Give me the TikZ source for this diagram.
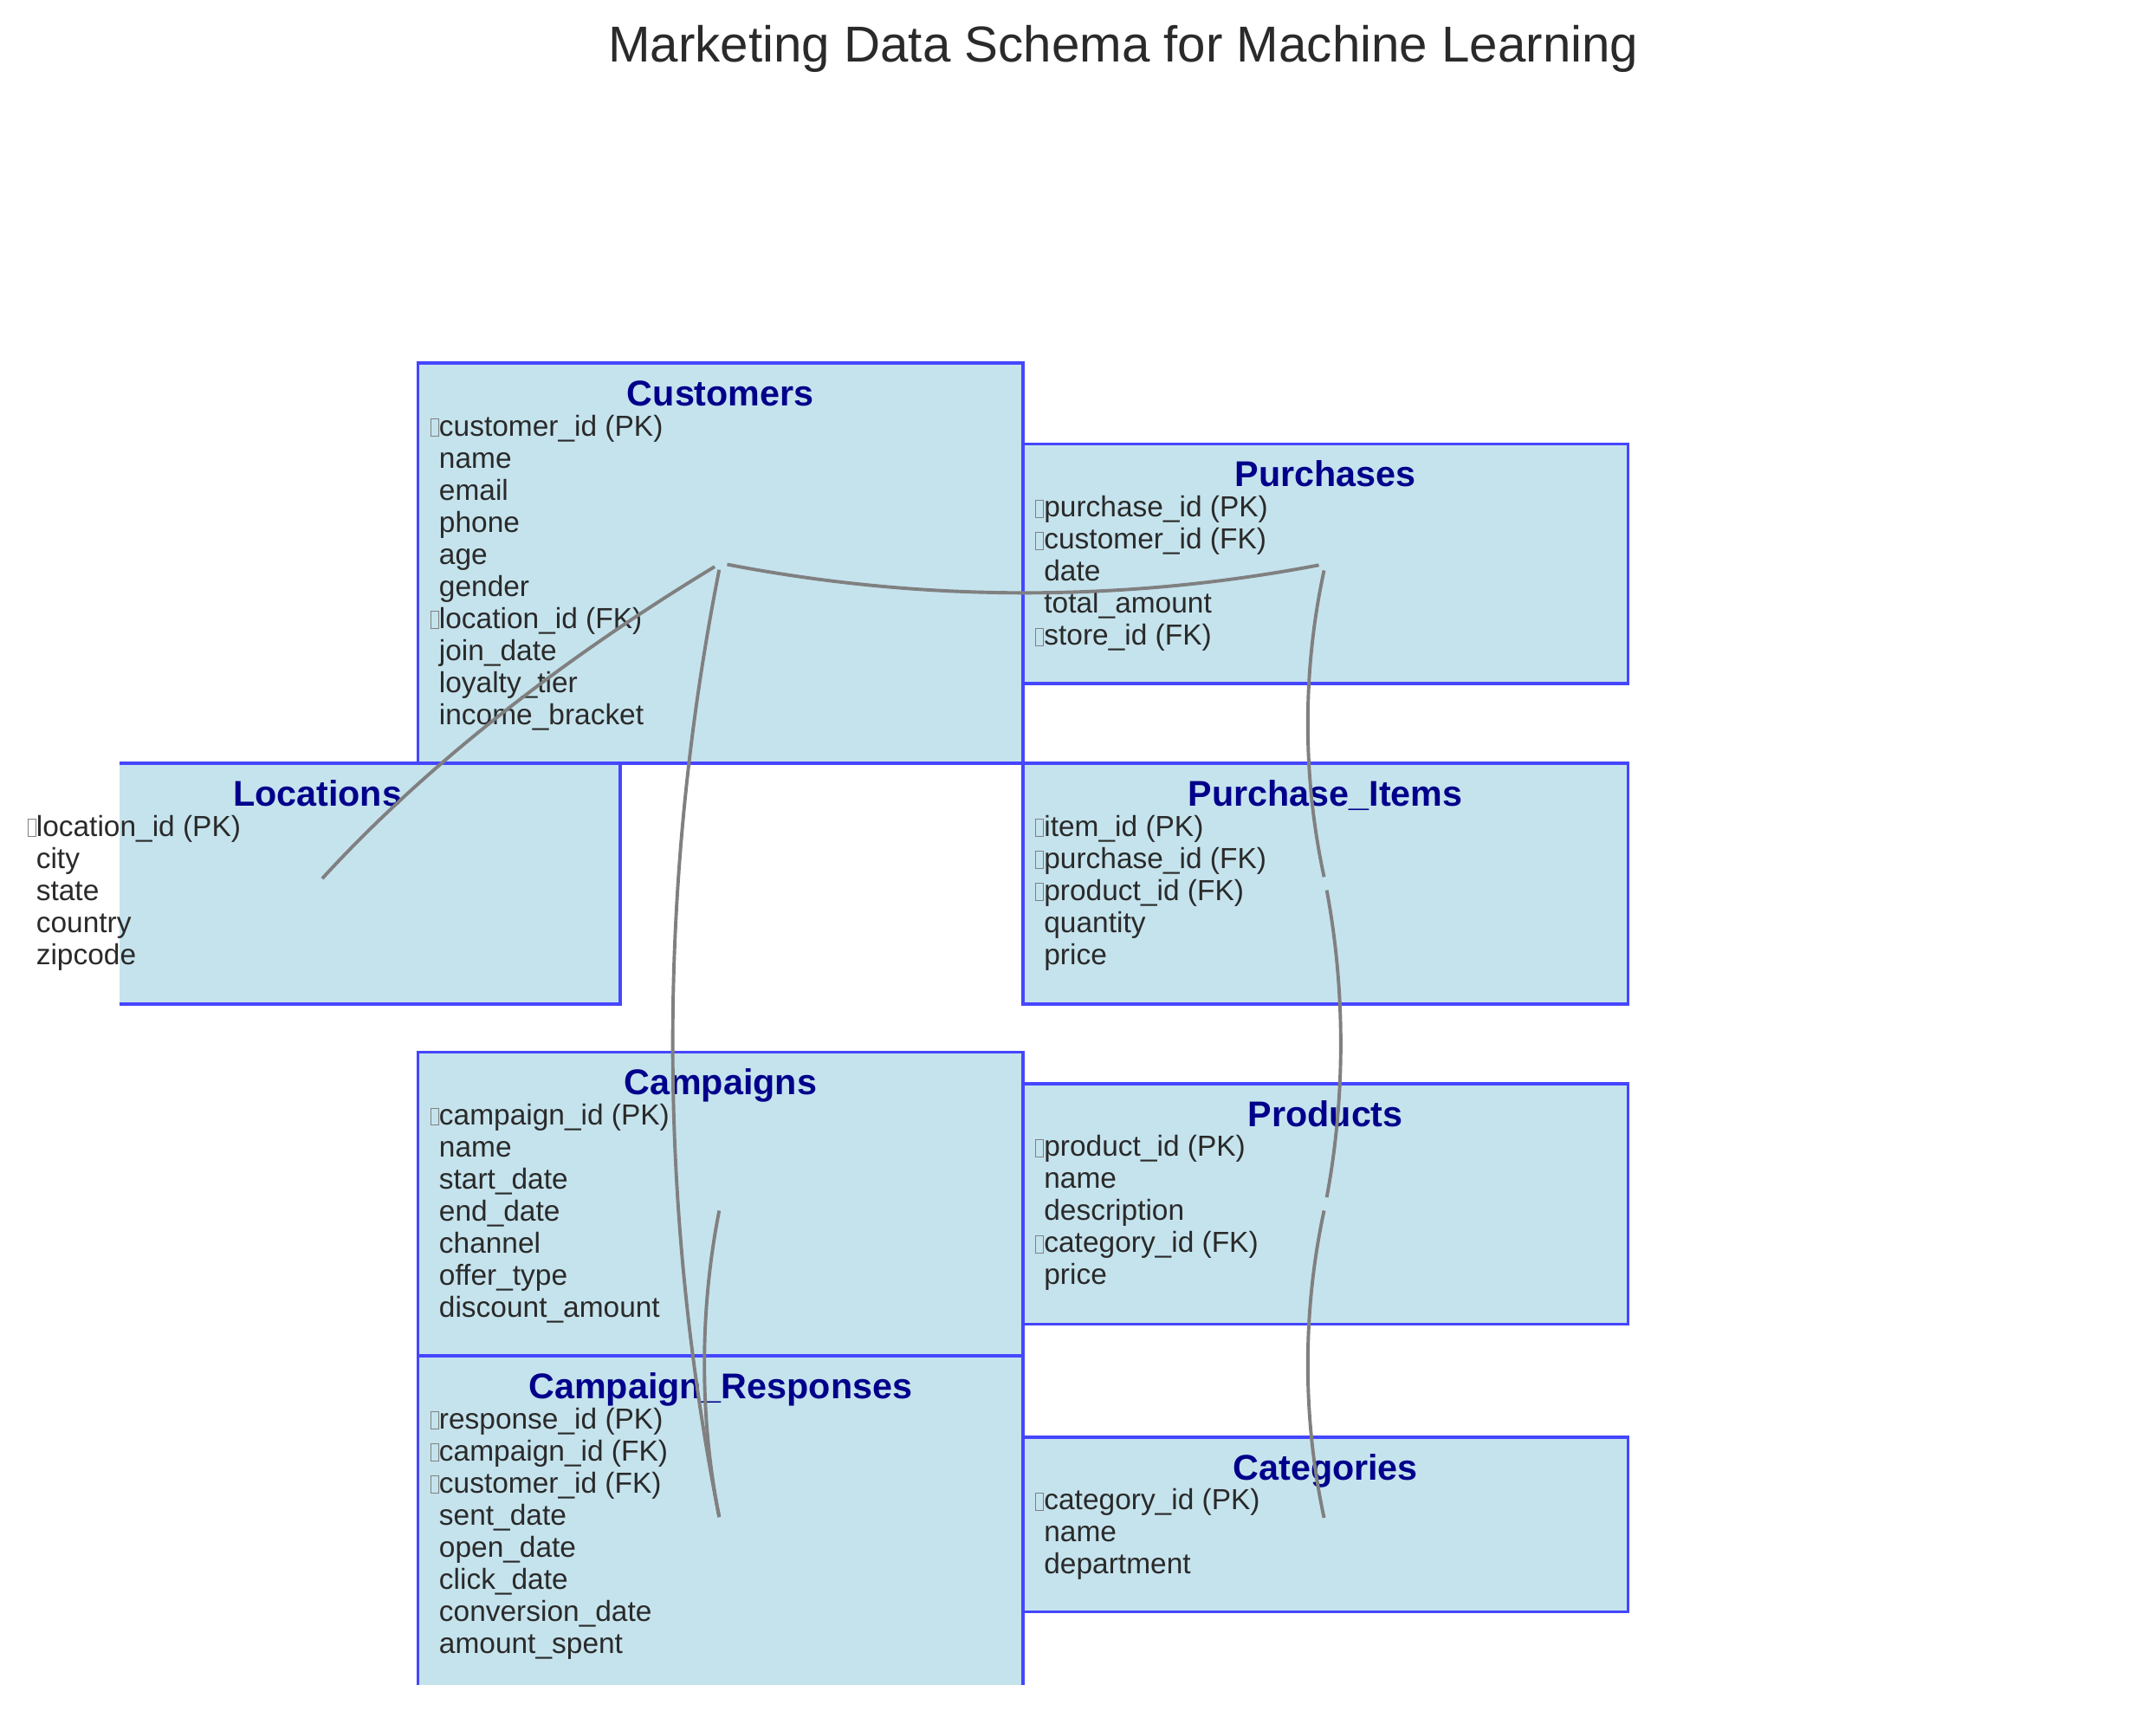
\documentclass[tikz,border=0pt]{standalone}
\usepackage{fontspec}
\setmainfont{Liberation Sans}
\definecolor{boxfill}{RGB}{197,227,237}
\definecolor{boxline}{RGB}{70,70,255}
\definecolor{headblue}{RGB}{0,0,139}
\definecolor{fieldgray}{RGB}{42,42,42}
\definecolor{linkgray}{RGB}{128,128,128}

% little empty glyph box in front of the key fields
\newcommand{\keymark}{\llap{{\setlength\fboxsep{0pt}\setlength\fboxrule{0.35pt}\color{gray}\fbox{\rule{0pt}{6.8pt}\hspace{2.9pt}}}}}

\tikzset{
  tablebox/.style={fill=boxfill, draw=boxline, line width=1.25pt},
  tabletitle/.style={anchor=base, inner sep=0pt, text=headblue, font=\fontsize{14.8}{17}\selectfont\bfseries},
  fieldtext/.style={anchor=base west, inner sep=0pt, text=fieldgray, font=\fontsize{12}{14}\selectfont},
  link/.style={draw=linkgray, line width=1.4pt, shorten <=2.8pt, shorten >=2.8pt},
}

% name, left, top, bottom, title, fields
\newcommand{\schematable}[6]{%
  \begin{scope}
    \clip (87,0) rectangle (1568,1225);
    \draw[tablebox] (#2,#3) rectangle (#2+440,#4);
  \end{scope}
  \node[tabletitle] (#1-title) at (#2+220,#3+31) {#5};
  \foreach \f [count=\r from 0] in {#6}
    \node[fieldtext] (#1-row\r) at (#2+15,#3+53+23.3*\r) {\f};
  \coordinate (#1) at (#2+220,{(#3+#4)/2});
}

\begin{document}
\begin{tikzpicture}[x=0.02cm,y=-0.02cm]
  %%%%% START %%%%%
  \useasboundingbox (0,0) rectangle (1568,1244);

  \node[anchor=base, inner sep=0pt, text=fieldgray, font=\fontsize{20.9}{24}\selectfont] (title) at (817,45) {Marketing Data Schema for Machine Learning};

  \schematable{customers}{304}{264}{555}{Customers}{\keymark customer\_id (PK), name, email, phone, age, gender, \keymark location\_id (FK), join\_date, loyalty\_tier, income\_bracket}
  \schematable{purchases}{744}{323}{497}{Purchases}{\keymark purchase\_id (PK), \keymark customer\_id (FK), date, total\_amount, \keymark store\_id (FK)}
  \schematable{locations}{11}{555}{730}{Locations}{\keymark location\_id (PK), city, state, country, zipcode}
  \schematable{items}{744}{555}{730}{Purchase\_Items}{\keymark item\_id (PK), \keymark purchase\_id (FK), \keymark product\_id (FK), quantity, price}
  \schematable{campaigns}{304}{765}{986}{Campaigns}{\keymark campaign\_id (PK), name, start\_date, end\_date, channel, offer\_type, discount\_amount}
  \schematable{responses}{304}{986}{1230}{Campaign\_Responses}{\keymark response\_id (PK), \keymark campaign\_id (FK), \keymark customer\_id (FK), sent\_date, open\_date, click\_date, conversion\_date, amount\_spent}
  \schematable{products}{744}{788}{963}{Products}{\keymark product\_id (PK), name, description, \keymark category\_id (FK), price}
  \schematable{categories}{744}{1045}{1172}{Categories}{\keymark category\_id (PK), name, department}

  % relations
  \draw[link] (customers) .. controls (404.7,481.8) and (307,559.5) .. (locations);
  \draw[link] (customers) .. controls (670.7,437.8) and (817.2,438) .. (purchases);
  \draw[link] (customers) .. controls (478,642.5) and (478,875.3) .. (responses);
  \draw[link] (campaigns) .. controls (508.7,953.2) and (508.7,1030.7) .. (responses);
  \draw[link] (purchases) .. controls (947.2,487.3) and (947.2,564.8) .. (items);
  \draw[link] (items) .. controls (978.5,720.2) and (978.5,797.5) .. (products);
  \draw[link] (products) .. controls (947.2,953.2) and (947.2,1031) .. (categories);
  %%%%% END %%%%%
\end{tikzpicture}
\end{document}
